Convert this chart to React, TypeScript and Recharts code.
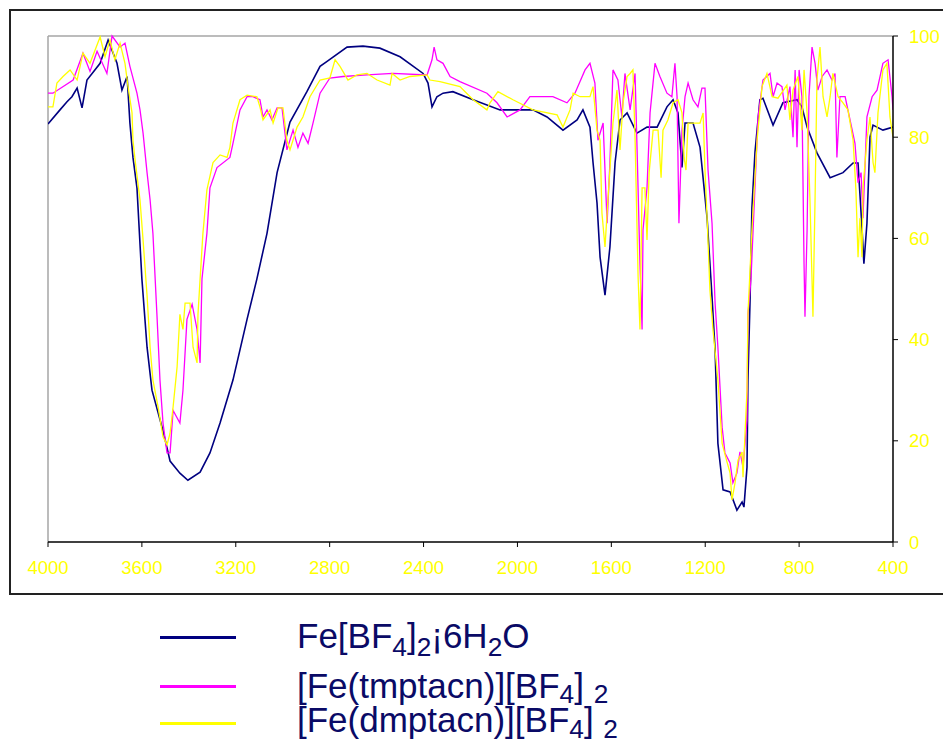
import React from 'react';
import { LineChart, Line, XAxis, YAxis, ReferenceLine } from 'recharts';

// wavenumbers (cm-1) and transmittance (%)
const hexaWn = [4000, 3949, 3919, 3898, 3876, 3855, 3834, 3778, 3744, 3706, 3685, 3663, 3651, 3638, 3621, 3600, 3578, 3557, 3510, 3480, 3438, 3404, 3352, 3310, 3267, 3212, 3152, 3110, 3067, 3024, 2969, 2897, 2841, 2811, 2726, 2658, 2586, 2500, 2402, 2381, 2364, 2343, 2317, 2275, 2189, 2074, 1934, 1874, 1806, 1746, 1721, 1691, 1678, 1661, 1648, 1627, 1606, 1584, 1563, 1533, 1491, 1448, 1405, 1363, 1337, 1316, 1299, 1286, 1252, 1222, 1192, 1171, 1158, 1146, 1124, 1094, 1065, 1043, 1035, 1022, 1018, 1009, 1001, 988, 967, 954, 911, 869, 809, 788, 766, 724, 668, 613, 570, 549, 532, 524, 511, 498, 485, 443, 400];
const hexaT = [82.6, 85.4, 87, 88, 89.7, 85.8, 91.3, 94.6, 99.2, 94.6, 89.3, 92, 82.8, 76, 70, 52, 38.5, 30, 22, 16, 13.6, 12.2, 13.8, 17.6, 23.5, 32, 44, 52, 61, 73, 83, 89, 94, 95, 97.8, 98, 97.6, 95.9, 92.6, 90.7, 86, 88, 88.7, 89, 87.4, 85.4, 85.4, 84, 81.4, 83.4, 85.4, 82, 75, 67, 56.3, 48.8, 58.3, 75, 83.4, 84.8, 80.8, 82, 82, 86, 87.4, 84.8, 74, 82.8, 82.8, 78, 64, 48.4, 38, 19.5, 10.3, 9.9, 6.3, 7.9, 6.9, 14.8, 32, 47.8, 66, 77, 87.4, 87.7, 82.4, 86.8, 87.4, 86, 82, 76.9, 72, 73, 74.9, 74.9, 62, 55, 63, 80, 82.4, 81.4, 82];

const tmpWn = [4000, 3979, 3893, 3851, 3821, 3791, 3749, 3727, 3693, 3672, 3651, 3621, 3608, 3595, 3578, 3565, 3553, 3536, 3523, 3510, 3493, 3480, 3467, 3438, 3425, 3408, 3386, 3365, 3352, 3344, 3323, 3310, 3280, 3225, 3212, 3182, 3152, 3127, 3097, 3084, 3067, 3046, 3024, 3003, 2982, 2956, 2935, 2914, 2892, 2871, 2841, 2799, 2743, 2641, 2530, 2385, 2364, 2355, 2343, 2317, 2287, 2245, 2130, 2087, 2044, 1989, 1947, 1849, 1789, 1755, 1712, 1691, 1670, 1657, 1635, 1618, 1606, 1593, 1572, 1555, 1542, 1520, 1499, 1491, 1478, 1469, 1465, 1448, 1435, 1414, 1393, 1363, 1342, 1329, 1320, 1312, 1299, 1286, 1273, 1252, 1231, 1214, 1201, 1188, 1171, 1158, 1146, 1128, 1116, 1094, 1082, 1065, 1052, 1039, 1022, 1018, 1005, 996, 975, 954, 924, 911, 894, 873, 860, 839, 826, 817, 809, 800, 788, 779, 775, 766, 758, 745, 732, 720, 702, 681, 660, 647, 639, 626, 604, 583, 562, 549, 536, 528, 511, 489, 468, 443, 421, 404, 400];
const tmpT = [88.7, 88.7, 91.3, 96.6, 93, 97, 92.6, 100, 97.8, 98.6, 94, 88.7, 85.4, 80.8, 73, 67.6, 61, 45, 32, 23.5, 17.6, 17.6, 26, 23.5, 30, 44, 47, 42, 35.4, 52, 61, 70, 74, 76, 78.8, 85.4, 88, 88, 87.4, 84, 85.4, 83.4, 85.8, 85.8, 77.5, 81.4, 78, 80.8, 78.8, 82.8, 88.7, 91.7, 92, 92.3, 92.6, 92.3, 95.3, 97.8, 95.3, 94.6, 92, 91, 88.7, 86.8, 84, 85.4, 88, 88, 86.8, 88.7, 93.3, 94.6, 90.7, 79.4, 82.8, 63, 75, 93.3, 91.3, 84, 92.6, 85.4, 92.6, 78.8, 55, 42, 61.7, 70, 84.8, 94.6, 92, 88.7, 88, 94.6, 88, 63, 81.4, 88, 90.7, 87.4, 86, 89.7, 89.7, 73.5, 63, 47.2, 38.5, 22.7, 17.6, 15.6, 11.7, 13.6, 17.8, 14.8, 24, 45, 52, 61.7, 84, 91.3, 92.6, 88, 90.7, 90, 85.4, 90, 80, 93.3, 78, 93.3, 88, 55, 44.5, 61.7, 88, 97.8, 94.6, 89.3, 92, 93.3, 91.3, 92.6, 76, 88, 88, 83.4, 78.8, 71, 73, 64, 84, 88, 89.3, 94.6, 95.3, 88, 85.4];

const dmpWn = [4000, 3979, 3962, 3936, 3906, 3876, 3851, 3821, 3778, 3757, 3736, 3715, 3693, 3672, 3659, 3642, 3638, 3629, 3608, 3595, 3578, 3565, 3553, 3531, 3510, 3493, 3480, 3467, 3450, 3438, 3425, 3416, 3395, 3382, 3365, 3361, 3352, 3340, 3323, 3297, 3267, 3237, 3225, 3212, 3182, 3152, 3110, 3097, 3084, 3054, 3041, 3020, 2999, 2982, 2969, 2939, 2914, 2884, 2841, 2799, 2777, 2756, 2722, 2684, 2641, 2598, 2543, 2534, 2500, 2458, 2385, 2373, 2330, 2245, 2189, 2130, 2117, 2083, 2019, 1934, 1831, 1806, 1776, 1763, 1733, 1691, 1678, 1661, 1648, 1640, 1627, 1614, 1593, 1576, 1563, 1550, 1533, 1520, 1508, 1499, 1486, 1478, 1469, 1457, 1448, 1439, 1422, 1401, 1388, 1380, 1359, 1337, 1316, 1299, 1290, 1282, 1273, 1252, 1222, 1209, 1201, 1192, 1180, 1167, 1146, 1128, 1107, 1094, 1086, 1073, 1060, 1043, 1039, 1031, 1022, 1018, 1001, 979, 958, 937, 915, 890, 852, 839, 826, 805, 788, 779, 766, 754, 741, 732, 724, 711, 698, 681, 668, 656, 634, 613, 592, 570, 558, 549, 541, 532, 528, 511, 498, 485, 477, 464, 443, 426, 413, 400];
const dmpT = [86, 86, 90.7, 92, 93.3, 91.3, 96.6, 94.6, 99.8, 95.9, 99.2, 95.3, 98.6, 94.6, 90, 84.8, 79.4, 75.5, 67.6, 59.7, 48.7, 38.5, 32, 26.7, 20.8, 19.2, 21.5, 26.7, 34.6, 45, 42, 47.2, 47.2, 38.5, 35.4, 45, 52, 61, 69.6, 75, 76.5, 76, 78, 82.8, 87.4, 88.3, 88, 86, 83.4, 85.4, 82.8, 85.8, 85.8, 79.4, 77.5, 82, 84, 88, 91.3, 91.7, 95.3, 94, 91.3, 92.3, 92.6, 91.3, 90.3, 92.6, 91.3, 92, 92.3, 91.3, 91, 90, 87.4, 85.4, 86.8, 89, 87.4, 85.4, 84.4, 82, 85.4, 88.7, 88, 88, 90, 81.4, 79.4, 65, 58.3, 68, 82.8, 89.3, 77.5, 86.8, 92, 92.6, 93.3, 80, 52.4, 42, 70, 70, 59.7, 73, 81.4, 81.4, 72, 81.4, 83.4, 86.8, 87.4, 84.8, 76, 73.5, 82.8, 82.8, 82.8, 84.8, 73.5, 64, 49.8, 42, 32, 19.5, 15.8, 13.6, 8.3, 11.7, 16.2, 17.8, 12.8, 20.8, 30, 45, 61.7, 79.4, 90, 92.6, 88, 87.7, 90.3, 83.4, 89.3, 92, 81.4, 93.3, 84.8, 68, 44.5, 68, 91.3, 97.8, 88, 84, 88, 92.6, 88, 86.8, 85.4, 79.4, 69.6, 56.3, 64, 56.3, 70, 79.4, 84, 75, 73, 84.8, 93.3, 94.6, 84, 80];

const xTicks = [4000, 3600, 3200, 2800, 2400, 2000, 1600, 1200, 800, 400];
const yTicks = [0, 20, 40, 60, 80, 100];

const toPoints = (wn: number[], t: number[]) => wn.map((w, i) => ({ wn: w, t: t[i] }));

const FONT = '"Liberation Sans", Arial, sans-serif';
const tickStyle = { fill: '#FFFF00', fontSize: 18.5, fontFamily: FONT };

const Sub = ({ children, drop = 0.3 }: { children: React.ReactNode; drop?: number }) => (
  <span style={{ fontSize: '0.75em', position: 'relative', top: `${drop}em`, lineHeight: 0 }}>{children}</span>
);

const legendRows = [
  { color: '#000080', lineY: 637, textTop: 621, label: <>Fe[BF<Sub>4</Sub>]<Sub>2</Sub>¡6H<Sub>2</Sub>O</> },
  { color: '#FF00FF', lineY: 686, textTop: 671, label: <>[Fe(tmptacn)][BF<Sub drop={0.2}>4</Sub>] <Sub drop={0.2}>2</Sub></> },
  { color: '#FFFF00', lineY: 723, textTop: 705, label: <>[Fe(dmptacn)][BF<Sub drop={0.22}>4</Sub>] <Sub drop={0.22}>2</Sub></> },
];

export default function App() {
  return (
    <div style={{ position: 'absolute', left: 0, top: 0, width: 943, height: 745, overflow: 'hidden', background: '#fff' }}>
      <div style={{ position: 'absolute', left: 9, top: 9, width: 960, height: 582, border: '2px solid #222' }} />
      <div style={{ position: 'absolute', left: 0, top: 0 }}>
        <LineChart width={943} height={600} margin={{ top: 36, right: 5, bottom: 28, left: 48 }}>
          <XAxis
            dataKey="wn"
            type="number"
            domain={[400, 4000]}
            ticks={xTicks}
            reversed
            allowDataOverflow
            height={30}
            tickSize={5}
            tickMargin={14}
            tick={tickStyle}
            axisLine={{ stroke: '#000', strokeWidth: 1.5 }}
            tickLine={{ stroke: '#000' }}
          />
          <YAxis
            orientation="right"
            type="number"
            domain={[0, 100]}
            ticks={yTicks}
            width={45}
            tickSize={5}
            tickMargin={11}
            tick={{ ...tickStyle, textAnchor: 'start' }}
            axisLine={{ stroke: '#000', strokeWidth: 1.5 }}
            tickLine={{ stroke: '#000' }}
          />
          <ReferenceLine y={100} stroke="#a6a6a6" strokeWidth={1.5} />
          <ReferenceLine x={4000} stroke="#a6a6a6" strokeWidth={1.5} />
          <Line data={toPoints(hexaWn, hexaT)} dataKey="t" type="linear" stroke="#000080" strokeWidth={1.6} dot={false} isAnimationActive={false} />
          <Line data={toPoints(tmpWn, tmpT)} dataKey="t" type="linear" stroke="#FF00FF" strokeWidth={1.3} dot={false} isAnimationActive={false} />
          <Line data={toPoints(dmpWn, dmpT)} dataKey="t" type="linear" stroke="#FFFF00" strokeWidth={1.3} dot={false} isAnimationActive={false} />
        </LineChart>
      </div>
      {legendRows.map((r, i) => (
        <React.Fragment key={i}>
          <div style={{ position: 'absolute', left: 160, top: r.lineY - 1, width: 76, height: 3, background: r.color }} />
          <div style={{ position: 'absolute', left: 297, top: r.textTop, fontFamily: FONT, fontSize: 35, lineHeight: '30px', color: '#0a0a66', whiteSpace: 'nowrap' }}>
            {r.label}
          </div>
        </React.Fragment>
      ))}
    </div>
  );
}
